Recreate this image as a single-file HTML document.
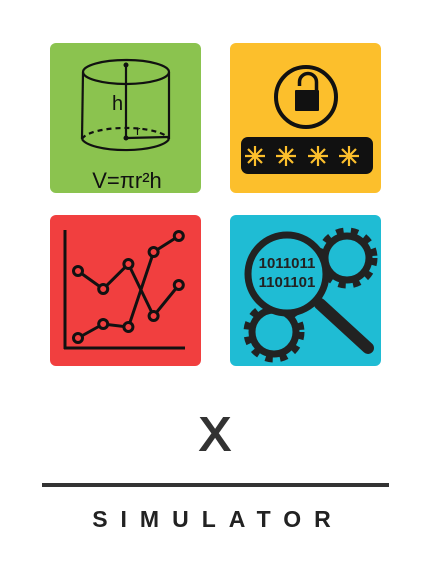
<!DOCTYPE html>
<html><head><meta charset="utf-8"><style>
html,body{margin:0;padding:0;background:#fff;width:431px;height:579px;overflow:hidden}
svg{display:block}
text{font-family:"Liberation Sans",sans-serif}
</style></head><body>
<svg width="431" height="579" viewBox="0 0 431 579">
<!-- green tile -->
<g>
<rect x="50" y="43" width="151" height="150" rx="6" fill="#8bc34f"/>
<g fill="none" stroke="#111" stroke-width="2.2">
<ellipse cx="126" cy="72" rx="43" ry="12"/>
<line x1="83" y1="72" x2="82" y2="139"/><line x1="169" y1="72" x2="169" y2="139"/>
<path d="M82 139 A44 13 0 0 0 169 139"/>
<path d="M82 139 A44 13 0 0 1 169 139" stroke-dasharray="5 4"/>
<line x1="126" y1="65" x2="126" y2="138"/>
<line x1="126" y1="138" x2="168" y2="137"/>
</g>
<circle cx="126" cy="65" r="2.5" fill="#111"/><circle cx="126" cy="138" r="2.5" fill="#111"/>
<text x="112" y="110" font-size="20" fill="#111">h</text>
<text x="136" y="135" font-size="13" fill="#111">r</text>
<text x="127" y="188" font-size="22" fill="#111" text-anchor="middle">V=πr²h</text>
</g>
<!-- orange tile -->
<g>
<rect x="230" y="43" width="151" height="150" rx="6" fill="#fcbf2c"/>
<circle cx="306" cy="97" r="30" fill="none" stroke="#111" stroke-width="4"/>
<path d="M299.5 86 V82 A8.5 8.5 0 0 1 316.5 82 V90" fill="none" stroke="#111" stroke-width="3.5"/>
<rect x="295" y="90" width="24" height="21" rx="1" fill="#111"/>
<rect x="241" y="137" width="132" height="37" rx="7" fill="#111"/>
<g stroke="#fcbf2c" stroke-width="2.2">
<g transform="translate(255,156)"><path d="M0-10V10M-10 0H10M-7-7L7 7M-7 7L7-7"/></g>
<g transform="translate(286,156)"><path d="M0-10V10M-10 0H10M-7-7L7 7M-7 7L7-7"/></g>
<g transform="translate(318,156)"><path d="M0-10V10M-10 0H10M-7-7L7 7M-7 7L7-7"/></g>
<g transform="translate(349,156)"><path d="M0-10V10M-10 0H10M-7-7L7 7M-7 7L7-7"/></g>
</g>
</g>
<!-- red tile chart -->
<g>
<rect x="50" y="215" width="151" height="151" rx="6" fill="#f13f3f"/>
<line x1="65" y1="230" x2="65" y2="349" stroke="#111" stroke-width="3"/>
<line x1="64" y1="348" x2="185" y2="348" stroke="#111" stroke-width="3"/>
<g id="series"></g>
</g>
<!-- cyan tile -->
<g>
<rect x="230" y="215" width="151" height="151" rx="6" fill="#1fbcd4"/>
<g fill="none" stroke="#222" stroke-width="9" stroke-dasharray="7 7">
<circle cx="347" cy="258" r="26"/><circle cx="274" cy="332" r="26"/>
</g>
<g fill="none" stroke="#222" stroke-width="7">
<circle cx="347" cy="258" r="22"/><circle cx="274" cy="332" r="22"/>
</g>
<circle cx="287" cy="274" r="39" fill="#1fbcd4" stroke="#222" stroke-width="7"/>
<line x1="320" y1="304" x2="368" y2="348" stroke="#222" stroke-width="12" stroke-linecap="round"/>
<text x="287" y="268" font-size="15" font-weight="bold" fill="#222" text-anchor="middle">1011011</text>
<text x="287" y="287" font-size="15" font-weight="bold" fill="#222" text-anchor="middle">1101101</text>
</g>
<text x="215" y="450" font-size="46" fill="#333" stroke="#333" stroke-width="2" text-anchor="middle">X</text>
<rect x="42" y="483" width="347" height="4" fill="#333"/>
<text x="218" y="527" font-size="23" font-weight="bold" fill="#222" text-anchor="middle" letter-spacing="13">SIMULATOR</text>
</svg>
<script>
const categories = [0, 1, 2, 3, 4];
const seriesA = [7.7, 5.9, 8.4, 3.2, 6.3];
const seriesB = [1.0, 2.4, 2.1, 9.6, 11.2];
const xs = i => 78 + i * 25.2;
const ys = v => 348 - v * 10;
const g = document.getElementById('series');
const NS = 'http://www.w3.org/2000/svg';
[seriesA, seriesB].forEach((s, k) => {
  const pl = document.createElementNS(NS, 'polyline');
  pl.setAttribute('points', s.map((v, i) => xs(categories[i]) + ',' + ys(v)).join(' '));
  pl.setAttribute('fill', 'none'); pl.setAttribute('stroke', '#111'); pl.setAttribute('stroke-width', '3');
  
  
  g.appendChild(pl);
  s.forEach((v, i) => {
    const c = document.createElementNS(NS, 'circle');
    c.setAttribute('cx', xs(categories[i])); c.setAttribute('cy', ys(v)); c.setAttribute('r', '4.5');
    c.setAttribute('fill', '#f13f3f'); c.setAttribute('stroke', '#111'); c.setAttribute('stroke-width', '3');
    
    
    g.appendChild(c);
  });
});
</script>
</body></html>
